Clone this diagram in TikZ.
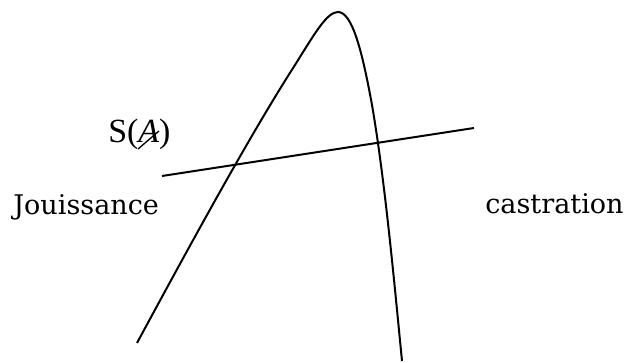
\documentclass[tikz,border=0pt]{standalone}
\usepackage{fontspec}
\setmainfont{DejaVu Serif}
\newfontfamily\timesf{Liberation Serif}
\begin{document}
\begin{tikzpicture}[x=0.75pt,y=-0.75pt,
  lbl/.style={inner sep=0pt,anchor=base west,font=\fontsize{20.3}{24}\selectfont},
  slbl/.style={inner sep=0pt,anchor=base west,font=\timesf\fontsize{25.4}{28}\selectfont},
  stroke/.style={line width=1.5pt,line join=round}]
\useasboundingbox (0,0) rectangle (626,363);
\node[lbl] (jou) at (13,215) {Jouissance};
\node[lbl] (cas) at (485,214) {castration};
\node[slbl] (sa) at (108,143) {S(\textit{A})};
\draw[line width=1pt] (138,149) -- (159,131);
\draw[stroke] (162,176) -- (474,128);
\draw[stroke] (137,343) .. controls (190,245) and (250,135) .. (295,65)
  .. controls (315,33) and (327,12) .. (338,12)
  .. controls (352,12) and (362,50) .. (372,105)
  .. controls (385,180) and (395,290) .. (402,361);
\end{tikzpicture}
\end{document}
